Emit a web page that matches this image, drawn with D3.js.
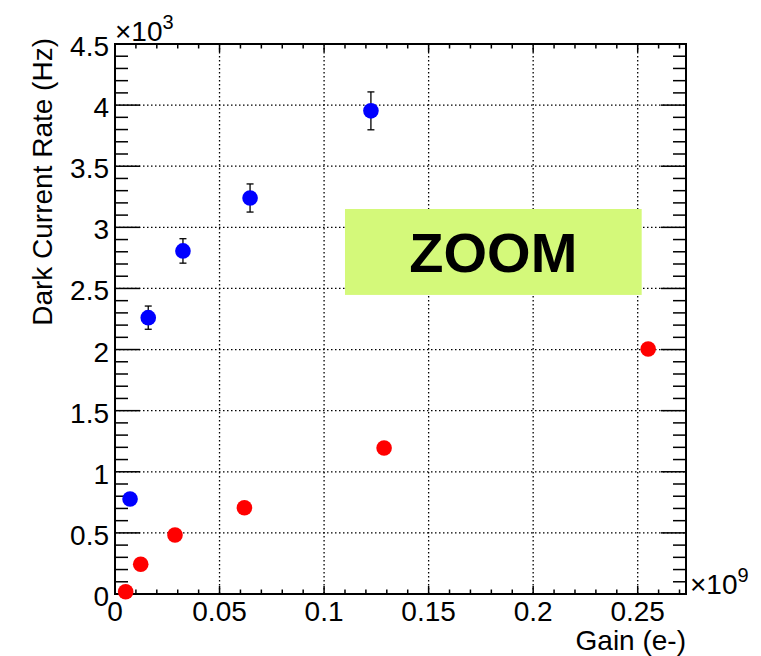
<!DOCTYPE html>
<html>
<head>
<meta charset="utf-8">
<script src="https://cdn.jsdelivr.net/npm/d3@7"></script>
<style>
  body { margin: 0; background: #fff; }
  svg { font-family: "Liberation Sans", Arial, Helvetica, sans-serif; }
</style>
</head>
<body>
<div id="chart-area"></div>
<script>
// gain in units of 1e9 e-, rate in units of 1e3 Hz
const blueGain = [0.0072, 0.0159, 0.0325, 0.0646, 0.1224];
const blueRate = [0.777, 2.261, 2.807, 3.240, 3.953];
const blueErr  = [0.03, 0.095, 0.10, 0.115, 0.155];

const redGain = [0.0051, 0.0123, 0.0287, 0.0619, 0.1287, 0.2550];
const redRate = [0.019, 0.243, 0.483, 0.706, 1.195, 2.005];

const xTicks = [0, 0.05, 0.1, 0.15, 0.2, 0.25];
const xTickLabels = ['0', '0.05', '0.1', '0.15', '0.2', '0.25'];
const yTicks = [0, 0.5, 1, 1.5, 2, 2.5, 3, 3.5, 4, 4.5];
const yTickLabels = ['0', '0.5', '1', '1.5', '2', '2.5', '3', '3.5', '4', '4.5'];

const zoomBox = { x0: 0.110, x1: 0.2519, y0: 2.447, y1: 3.150, label: 'ZOOM' };

const W = 761, H = 656;
const margin = { top: 44, right: 75, bottom: 62, left: 115 };
const width = W - margin.left - margin.right;
const height = H - margin.top - margin.bottom;
const fs = 28;

const svg = d3.select('#chart-area')
  .append('svg')
    .attr('width', W)
    .attr('height', H);

const g = svg.append('g')
  .attr('transform', 'translate(' + margin.left + ',' + margin.top + ')');

const x = d3.scaleLinear().domain([0, 0.2731]).range([0, width]);
const y = d3.scaleLinear().domain([0, 4.5]).range([height, 0]);

// grid
g.selectAll('.vgrid')
  .data(xTicks.filter(d => d > 0))
  .enter().append('line')
    .attr('x1', d => x(d)).attr('x2', d => x(d))
    .attr('y1', 0).attr('y2', height)
    .attr('stroke', '#000')
    .attr('stroke-width', 1.3)
    .attr('stroke-dasharray', '1.5,2.5');

g.selectAll('.hgrid')
  .data(yTicks.filter(d => d > 0 && d < 4.5))
  .enter().append('line')
    .attr('x1', 0).attr('x2', width)
    .attr('y1', d => y(d)).attr('y2', d => y(d))
    .attr('stroke', '#000')
    .attr('stroke-width', 1.3)
    .attr('stroke-dasharray', '1.5,2.5');

// ticks
const xMinor = d3.range(0, 0.2731, 0.01);
const yMinor = d3.range(0, 4.5001, 0.1);
const isMajor = (v, step) => Math.abs(v / step - Math.round(v / step)) < 1e-6;

const tickG = g.append('g').attr('stroke', '#000').attr('stroke-width', 1.5);

xMinor.forEach(v => {
  const len = isMajor(v, 0.05) ? 8 : 4.5;
  tickG.append('line').attr('x1', x(v)).attr('x2', x(v)).attr('y1', height).attr('y2', height - len);
  tickG.append('line').attr('x1', x(v)).attr('x2', x(v)).attr('y1', 0).attr('y2', len);
});

yMinor.forEach(v => {
  const len = isMajor(v, 0.5) ? 25 : 13;
  tickG.append('line').attr('x1', 0).attr('x2', len).attr('y1', y(v)).attr('y2', y(v));
  tickG.append('line').attr('x1', width).attr('x2', width - len).attr('y1', y(v)).attr('y2', y(v));
});

// frame
g.append('rect')
  .attr('width', width).attr('height', height)
  .attr('fill', 'none')
  .attr('stroke', '#000')
  .attr('stroke-width', 2);

// tick labels
g.selectAll('.xlab')
  .data(xTicks)
  .enter().append('text')
    .attr('x', d => x(d))
    .attr('y', height + 27)
    .attr('text-anchor', 'middle')
    .attr('font-size', fs)
    .text((d, i) => xTickLabels[i]);

g.selectAll('.ylab')
  .data(yTicks)
  .enter().append('text')
    .attr('x', -6)
    .attr('y', d => y(d) + 12)
    .attr('text-anchor', 'end')
    .attr('font-size', fs)
    .text((d, i) => yTickLabels[i]);

// exponents
const ex3 = g.append('text').attr('x', 0).attr('y', -3).attr('font-size', fs);
ex3.append('tspan').text('\u00d710');
ex3.append('tspan').attr('font-size', 20).attr('dy', -12).text('3');

const ex9 = g.append('text').attr('x', width + 4).attr('y', height).attr('font-size', fs);
ex9.append('tspan').text('\u00d710');
ex9.append('tspan').attr('font-size', 20).attr('dy', -12).text('9');

// axis titles
g.append('text')
  .attr('x', width)
  .attr('y', height + 56)
  .attr('text-anchor', 'end')
  .attr('font-size', fs)
  .text('Gain (e-)');

g.append('text')
  .attr('transform', 'translate(' + (-63) + ',-6) rotate(-90)')
  .attr('text-anchor', 'end')
  .attr('font-size', fs)
  .text('Dark Current Rate (Hz)');

// zoom box
g.append('rect')
  .attr('x', x(zoomBox.x0))
  .attr('y', y(zoomBox.y1))
  .attr('width', x(zoomBox.x1) - x(zoomBox.x0))
  .attr('height', y(zoomBox.y0) - y(zoomBox.y1))
  .attr('fill', '#d4f97a');

g.append('text')
  .attr('x', (x(zoomBox.x0) + x(zoomBox.x1)) / 2)
  .attr('y', (y(zoomBox.y0) + y(zoomBox.y1)) / 2 + 20)
  .attr('text-anchor', 'middle')
  .attr('font-size', 56)
  .attr('font-weight', 'bold')
  .text(zoomBox.label);

// error bars (blue)
const blue = blueGain.map((d, i) => ({ x: d, y: blueRate[i], e: blueErr[i] }));
const red = redGain.map((d, i) => ({ x: d, y: redRate[i] }));

const eb = g.selectAll('.err')
  .data(blue)
  .enter().append('g')
    .attr('stroke', '#000')
    .attr('stroke-width', 1.3);

eb.append('line')
  .attr('x1', d => x(d.x)).attr('x2', d => x(d.x))
  .attr('y1', d => y(d.y - d.e)).attr('y2', d => y(d.y + d.e));
eb.append('line')
  .attr('x1', d => x(d.x) - 3.5).attr('x2', d => x(d.x) + 3.5)
  .attr('y1', d => y(d.y - d.e)).attr('y2', d => y(d.y - d.e));
eb.append('line')
  .attr('x1', d => x(d.x) - 3.5).attr('x2', d => x(d.x) + 3.5)
  .attr('y1', d => y(d.y + d.e)).attr('y2', d => y(d.y + d.e));

g.selectAll('.blue')
  .data(blue)
  .enter().append('circle')
    .attr('cx', d => x(d.x))
    .attr('cy', d => y(d.y))
    .attr('r', 7.8)
    .attr('fill', '#0000ff');

g.selectAll('.red')
  .data(red)
  .enter().append('circle')
    .attr('cx', d => x(d.x))
    .attr('cy', d => y(d.y))
    .attr('r', 7.8)
    .attr('fill', '#ff0000');
</script>
</body>
</html>
